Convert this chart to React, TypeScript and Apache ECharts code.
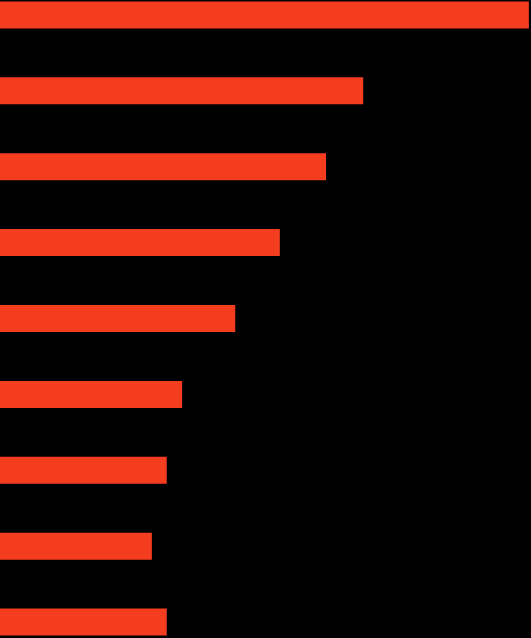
import { useEffect, useRef } from "react";
import * as echarts from "echarts";

const categories = ["A", "B", "C", "D", "E", "F", "G", "H", "I"];
const values = [99.6, 68.4, 61.4, 52.7, 44.3, 34.3, 31.4, 28.6, 31.4];

export default function App() {
  const chartRef = useRef<HTMLDivElement>(null);

  useEffect(() => {
    if (!chartRef.current) return;
    const chart = echarts.init(chartRef.current, undefined, { renderer: "svg" });

    chart.setOption({
      animation: false,
      backgroundColor: "#000000",
      grid: { left: 0, right: 0, top: 0, bottom: 0, containLabel: false },
      xAxis: {
        type: "value",
        min: 0,
        max: 100,
        show: false,
      },
      yAxis: {
        type: "category",
        data: categories,
        inverse: true,
        show: false,
      },
      series: [
        {
          type: "bar",
          data: values,
          barWidth: 27,
          itemStyle: { color: "#f43d1f" },
        },
      ],
    });

    return () => chart.dispose();
  }, []);

  // the bands run past the top and bottom edges of the page, so the chart is shifted up
  return (
    <div style={{ position: "fixed", left: 0, top: 0, width: 531, height: 638, background: "#000", overflow: "hidden" }}>
      <div
        ref={chartRef}
        style={{ position: "absolute", left: 0, top: -23, width: 531, height: 683 }}
      />
    </div>
  );
}
